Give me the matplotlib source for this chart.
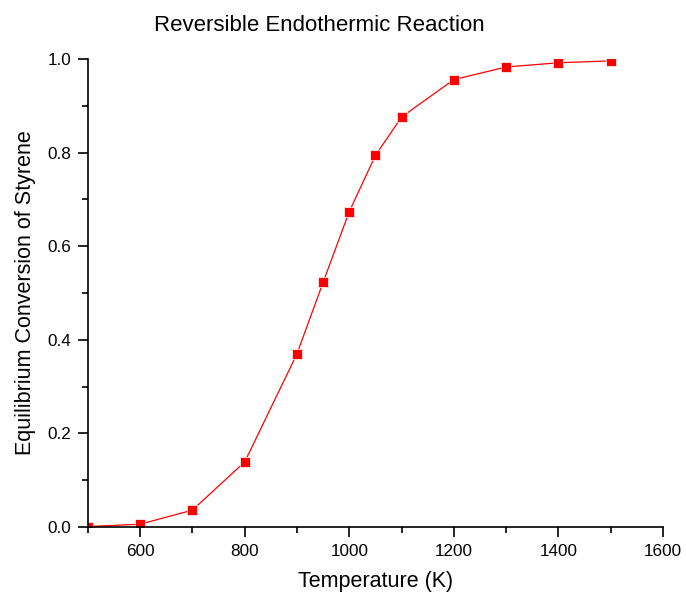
import matplotlib
matplotlib.use("Agg")
import matplotlib.pyplot as plt
from matplotlib.ticker import MultipleLocator

plt.rcParams['font.family'] = ['Liberation Sans', 'DejaVu Sans']

temperature = [500, 600, 700, 800, 900, 950, 1000, 1050, 1100, 1200, 1300, 1400, 1500]
conversion = [0.001, 0.006, 0.036, 0.139, 0.370, 0.523, 0.674, 0.794, 0.876, 0.956, 0.983, 0.992, 0.996]

fig = plt.figure(figsize=(6.86, 5.98), dpi=100)
ax = fig.add_axes([0.128, 0.1187, 0.8385, 0.7826])

ax.plot(temperature, conversion, color='red', lw=0.9, marker='s', markersize=7,
        markerfacecolor='red', markeredgecolor='white', markeredgewidth=0.5)

ax.set_xlim(500, 1600)
ax.set_ylim(0, 1.0)
ax.xaxis.set_major_locator(MultipleLocator(200))
ax.xaxis.set_minor_locator(MultipleLocator(100))
ax.yaxis.set_major_locator(MultipleLocator(0.2))
ax.yaxis.set_minor_locator(MultipleLocator(0.1))
ax.xaxis.set_major_formatter(lambda v, p: '' if v == 500 else f'{v:.0f}')

for s in ('top', 'right'):
    ax.spines[s].set_visible(False)
for s in ('left', 'bottom'):
    ax.spines[s].set_linewidth(1.2)
ax.tick_params(which='major', direction='out', length=7, width=1.2, labelsize=12.3, pad=5)
ax.tick_params(which='minor', direction='out', length=4, width=1.2)

ax.set_xlabel('Temperature (K)', fontsize=15.5, labelpad=9)
ax.set_ylabel('Equilibrium Conversion of Styrene', fontsize=15.5, labelpad=8)
fig.text(0.466, 0.958, 'Reversible Endothermic Reaction', ha='center', va='center', fontsize=16)

fig.savefig('out.png', dpi=100)
